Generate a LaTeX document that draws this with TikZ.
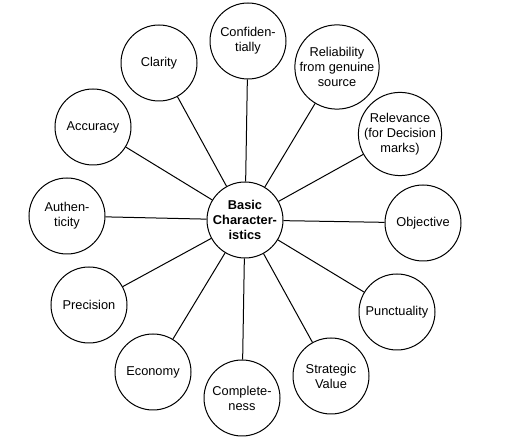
\documentclass[tikz,border=0pt]{standalone}
\usepackage{fontspec}
\setmainfont{Liberation Sans}
\tikzset{every picture/.style={line width=1pt}}
\tikzset{bubble/.style={draw, circle, minimum size=76pt, inner sep=0pt, align=center, font=\fontsize{12.8}{15}\selectfont}}

\begin{document}
\begin{tikzpicture}[x=1pt,y=1pt,yscale=-1,xscale=1]
\useasboundingbox (0,0) rectangle (523,443);

%Shape: Circle [id:hub]
\draw (245,220) node [bubble, font=\fontsize{12.8}{15}\selectfont\bfseries] (hub) {Basic\\Character-\\istics};

% Text Node
\draw (159,63) node [bubble] (clarity) {Clarity};
% Text Node
\draw (248,41) node [bubble] (confid) {Confiden-\\tially};
% Text Node
\draw (337,67) node [bubble] (reliab) {Reliability\\from genuine\\source};
% Text Node
\draw (400,134) node [bubble] (relev) {Relevance\\(for Decision\\marks)};
% Text Node
\draw (423,223) node [bubble] (object) {Objective};
% Text Node
\draw (397,312) node [bubble] (punct) {Punctuality};
% Text Node
\draw (331,376) node [bubble] (strat) {Strategic\\Value};
% Text Node
\draw (242,398) node [bubble] (complete) {Complete-\\ness};
% Text Node
\draw (153,372) node [bubble] (economy) {Economy};
% Text Node
\draw (89,305) node [bubble] (precis) {Precision};
% Text Node
\draw (67,216) node [bubble] (authen) {Authen-\\ticity};
% Text Node
\draw (93,127) node [bubble] (accur) {Accuracy};

%Straight Lines
\foreach \n in {clarity,confid,reliab,relev,object,punct,strat,complete,economy,precis,authen,accur}
  \draw (hub) -- (\n);

\end{tikzpicture}
\end{document}
